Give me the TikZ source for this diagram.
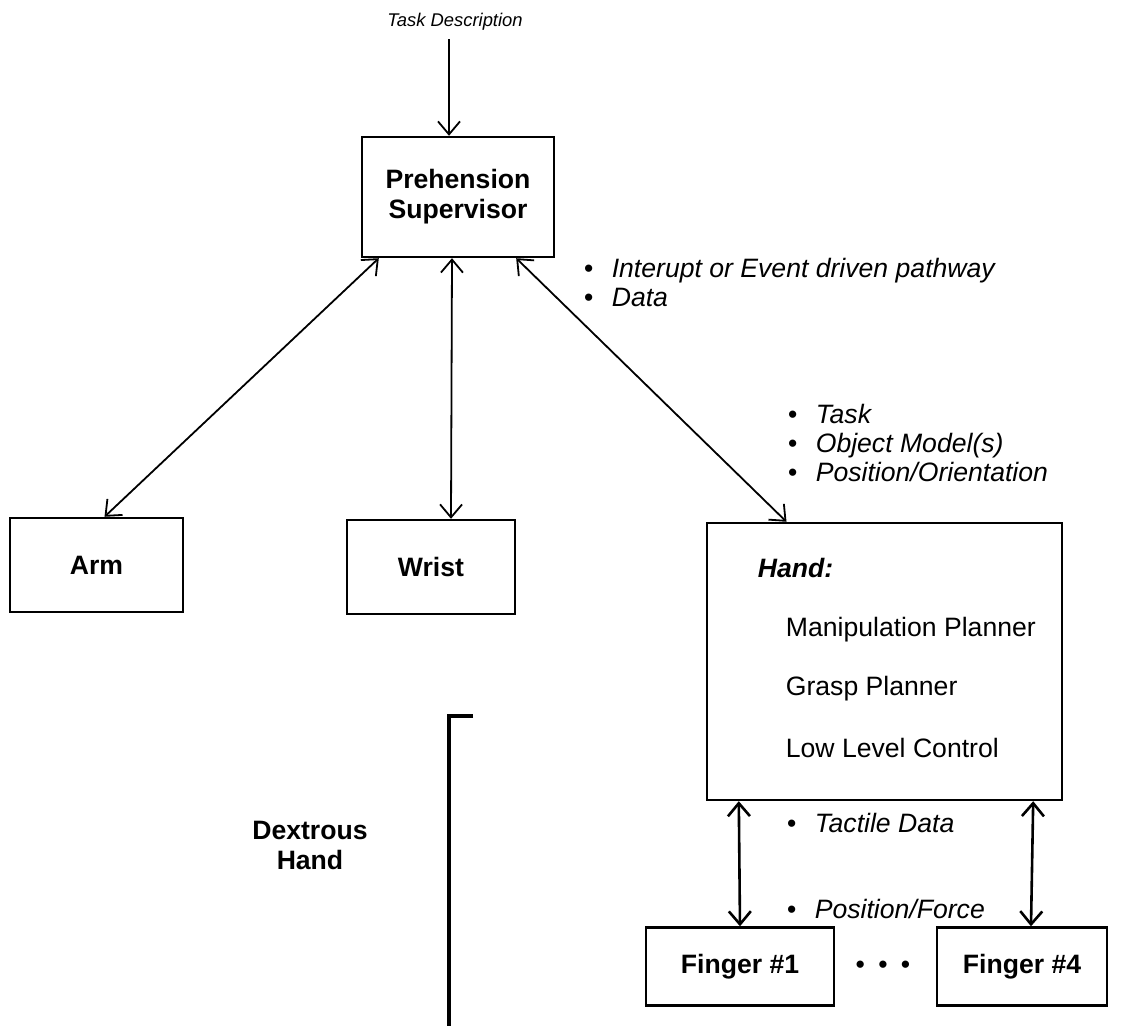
\documentclass[tikz,border=0pt]{standalone}
\usepackage{fontspec}
\setmainfont{Liberation Sans}
\usetikzlibrary{arrows.meta}

\newcommand{\itembul}{\textbullet\hspace{0.7em}}

\begin{document}
\begin{tikzpicture}[x=0.5pt,y=-0.5pt,
    >={Straight Barb[length=6.5pt,width=11pt]},
    line width=0.9pt]

        \useasboundingbox (0,0) rectangle (1132,1026);

        \begin{scope}[every node/.style={draw,line width=1.2pt,align=center,
            font=\fontsize{13.3}{15}\selectfont\bfseries}]
          \node[minimum width=96pt,minimum height=60pt]     (super)   at (458,197)   {Prehension\\Supervisor};
          \node[minimum width=86.5pt,minimum height=47pt]   (arm)     at (96.5,565)  {Arm};
          \node[minimum width=84pt,minimum height=47pt]     (wrist)   at (431,567)   {Wrist};
          \node[minimum width=177.5pt,minimum height=138.5pt] (hand)  at (884.5,661.5) {};
          \node[minimum width=94pt,minimum height=39pt]     (finger1) at (740,966.5) {Finger \#1};
          \node[minimum width=85pt,minimum height=39pt]     (finger4) at (1022,966.5) {Finger \#4};
        \end{scope}

        \begin{scope}[every node/.style={inner sep=0pt,anchor=west,align=left,
            font=\fontsize{13.3}{14.5}\selectfont}]
          \node[font=\fontsize{13.3}{15}\selectfont\bfseries\itshape] (handlbl) at (757,568) {Hand:};
          \node (manip)  at (785,630) {Manipulation Planner};
          \node (grasp)  at (785,689) {Grasp Planner};
          \node (lowlvl) at (785,748) {Low Level Control};

          \node[font=\fontsize{13.3}{14.5}\selectfont\itshape] (iep)      at (583,282.5) {\itembul Interupt or Event driven pathway\\\itembul Data};
          \node[font=\fontsize{13.3}{14.5}\selectfont\itshape] (tom)      at (787,443)   {\itembul Task\\\itembul Object Model(s)\\\itembul Position/Orientation};
          \node[font=\fontsize{13.3}{14.5}\selectfont\itshape] (tactile)  at (786,823)   {\itembul Tactile Data};
          \node[font=\fontsize{13.3}{14.5}\selectfont\itshape] (posforce) at (786,909)   {\itembul Position/Force};

          \node[anchor=center,align=center,font=\fontsize{13.3}{15}\selectfont\bfseries] (dex) at (310,845) {Dextrous\\Hand};
          \node[anchor=center] (dots) at (883,967) {\textbullet\hspace{0.5em}\textbullet\hspace{0.5em}\textbullet};
          \node[anchor=center,font=\fontsize{9.2}{11}\selectfont\itshape] (task) at (455,22) {Task Description};
        \end{scope}

        \begin{scope}[every edge/.style={draw}]
          \path ([xshift=-3pt,yshift=-4pt]task.south) edge[->] ([xshift=-4.5pt]super.north);
          \path ([xshift=9pt]super.south west)   edge[<->] ([xshift=4pt]arm.north);
          \path ([xshift=-3pt]super.south)       edge[<->] ([xshift=10pt]wrist.north);
          \path ([xshift=-19.5pt]super.south east) edge[<->] ([xshift=-49pt]hand.north);
          \path[line width=1.3pt] ([xshift=16.5pt]hand.south west) edge[<->] (finger1.north);
          \path[line width=1.3pt] ([xshift=-15pt]hand.south east)  edge[<->] ([xshift=4.5pt]finger4.north);
        \end{scope}

        % bracket for the dextrous hand
        \draw[line width=2pt] (473,716) -- (449,716) -- (449,1026);

      \end{tikzpicture}
\end{document}
